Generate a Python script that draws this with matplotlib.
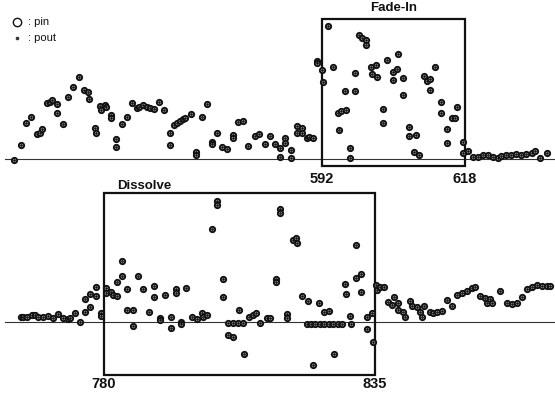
import matplotlib
matplotlib.use("Agg")
import matplotlib.pyplot as plt
from matplotlib.patches import Rectangle

plt.rcParams['font.family'] = ['Liberation Sans', 'DejaVu Sans']

# ---- Top panel: Fade-In (frame numbers, difference values) ----
top_frames = [536.0, 537.3, 538.2, 539.1, 540.2, 540.7, 541.1, 542.0, 542.5, 542.9, 543.8, 543.8,
              544.9, 545.8, 546.7, 547.8, 548.7, 549.5, 549.6, 550.7, 550.9, 551.6, 551.8, 552.5,
              552.7, 553.6, 553.6, 554.5, 554.5, 555.6, 556.5, 557.5, 558.4, 558.7, 559.5, 560.2,
              560.7, 561.5, 562.4, 563.3, 564.4, 564.4, 565.1, 565.6, 566.2, 566.7, 567.1, 568.2,
              569.1, 569.1, 570.2, 571.1, 572.0, 572.0, 572.9, 573.8, 574.7, 575.8, 575.8, 576.7,
              577.6, 578.5, 579.8, 580.5, 581.6, 582.5, 583.5, 584.4, 584.4, 585.3, 585.3, 586.4,
              586.4, 587.5, 587.5, 588.4, 588.4, 589.3, 589.6, 590.4, 591.1, 591.1, 592.0, 592.2,
              593.1, 594.0, 594.9, 595.1, 595.5, 596.2, 596.4, 597.1, 597.1, 598.0, 598.0, 598.7,
              599.3, 600.0, 600.0, 600.9, 601.1, 601.8, 602.0, 603.1, 603.1, 603.8, 604.9, 604.9,
              605.6, 605.8, 606.7, 606.7, 607.8, 607.8, 608.7, 609.1, 609.6, 610.5, 611.1, 611.6,
              611.6, 612.5, 613.6, 613.6, 614.7, 614.7, 615.6, 616.2, 616.5, 617.6, 617.6, 618.5,
              619.5, 620.4, 621.3, 622.2, 623.1, 624.0, 624.5, 625.5, 626.4, 627.3, 628.2, 629.1,
              630.2, 630.7, 631.6, 632.9]
top_values = [-1, 14, 36, 42, 25, 26, 30, 56, 57, 59, 55, 46,
              35, 62, 72, 82, 69, 67, 60, 31, 26, 53, 49, 54,
              52, 44, 41, 20, 12, 35, 42, 56, 51, 52, 54, 52,
              51, 50, 57, 49, 26, 14, 34, 36, 38, 40, 41, 45,
              7, 4, 42, 55, 17, 15, 26, 12, 10, 24, 21, 37,
              38, 13, 23, 25, 15, 23, 15, 11, 2, 21, 16, 9,
              1, 33, 26, 31, 26, 21, 22, 21, 98, 96, 89, 77,
              133, 92, 46, 29, 48, 68, 49, 11, 1, 86, 68, 124,
              121, 119, 114, 92, 85, 94, 82, 50, 36, 99, 87, 79,
              90, 105, 81, 64, 32, 23, 7, 24, 4, 83, 78, 80,
              69, 92, 57, 46, 30, 16, 41, 41, 52, 17, 6, 8,
              2, 2, 4, 4, 2, 1, 3, 4, 4, 5, 4, 5,
              6, 8, 1, 6]
fade_start, fade_end = 592, 618

# ---- Bottom panel: Dissolve ----
bot_frames = [763.2, 763.6, 764.4, 765.4, 766.0, 766.6, 767.6, 768.6, 769.6, 770.7, 771.7, 772.7,
              773.1, 774.1, 775.1, 776.1, 776.1, 777.2, 777.2, 778.4, 778.4, 779.4, 779.4, 780.4,
              780.4, 781.4, 781.8, 782.6, 782.6, 783.7, 783.7, 784.7, 784.7, 785.9, 785.9, 786.9,
              787.9, 789.1, 790.1, 790.1, 791.4, 791.4, 792.4, 793.6, 793.6, 794.6, 794.6, 795.6,
              795.6, 796.6, 797.9, 798.9, 799.9, 800.1, 800.9, 801.9, 802.9, 802.9, 804.2, 804.2,
              805.2, 805.2, 806.2, 806.2, 807.2, 807.4, 808.2, 808.4, 809.4, 810.2, 810.9, 811.7,
              813.1, 813.7, 814.9, 814.9, 815.7, 815.7, 817.1, 817.1, 818.3, 819.0, 819.2, 820.2,
              821.2, 821.4, 822.0, 822.4, 822.8, 823.6, 823.8, 824.7, 824.7, 825.7, 825.7, 826.5,
              826.7, 827.5, 828.3, 828.9, 829.1, 829.9, 830.1, 831.1, 831.1, 832.2, 832.2, 833.4,
              833.4, 834.4, 834.6, 835.2, 835.4, 836.0, 836.8, 837.6, 838.5, 838.9, 839.7, 839.7,
              840.7, 841.1, 842.1, 842.5, 843.5, 844.1, 844.5, 844.9, 846.2, 846.8, 847.6, 848.6,
              849.6, 850.6, 851.6, 852.7, 853.7, 854.7, 855.3, 856.3, 857.3, 857.7, 858.3, 858.7,
              860.4, 861.8, 862.8, 863.8, 864.8, 865.9, 866.9, 867.9, 868.9, 869.9, 870.5]
bot_values = [5, 5, 5, 7, 7, 5, 5, 6, 4, 8, 4, 3,
              4, 9, 0, 10, 23, 15, 28, 35, 26, 9, 6, 34,
              29, 30, 27, 26, 40, 46, 61, 33, 12, 12, -4, 46,
              33, 10, 36, 25, 4, 2, 27, 5, -6, 33, 29, 0,
              -2, 34, 5, 3, 9, 5, 7, 93, 121, 117, 43, 25,
              -1, -13, -1, -15, -1, 12, -1, -32, 5, 7, 9, -1,
              4, 4, 43, 40, 113, 109, 8, 4, 82, 84, 79, 26,
              -2, 21, -2, -43, -2, 19, -2, 10, -2, 11, -2, -2,
              -32, -2, -2, 38, 28, 6, -2, 77, 44, 48, 30, 5,
              -7, 9, -20, 37, 32, 35, 35, 20, 17, 25, 19, 12,
              10, 5, 21, 16, 15, 10, 5, 16, 10, 9, 10, 11,
              22, 16, 27, 29, 31, 34, 35, 26, 24, 19, 23, 19,
              31, 19, 18, 19, 25, 33, 35, 37, 36, 36, 36]
dis_start, dis_end = 780, 835

W, H = 555, 394
fig = plt.figure(figsize=(W / 100, H / 100), dpi=100)
fig.patch.set_facecolor('white')

ax1 = fig.add_axes([0, 1 - 180 / H, 1, 180 / H])
ax2 = fig.add_axes([0, 0, 1, 214 / H])
ax1.set_xlim(533.45, 634.36)
ax1.set_ylim(-21, 159)
ax2.set_xlim(758.89, 871.54)
ax2.set_ylim(-72, 142)
for ax in (ax1, ax2):
    ax.axis('off')


def draw_points(ax, xs, ys):
    ax.plot(xs, ys, linestyle='none', marker='o', ms=3.8, mfc='white', mec='#111111',
            mew=1.4, zorder=3)
    ax.plot(xs, ys, linestyle='none', marker='o', ms=2.0, mfc='#111111', mec='#111111',
            mew=0, zorder=4)


# baselines
ax1.plot([534.4, 634.36], [0, 0], color='#333333', lw=0.8, zorder=1)
ax2.plot([759.9, 871.54], [0, 0], color='#333333', lw=0.8, zorder=1)

# boxes
ax1.add_patch(Rectangle((fade_start, -7), fade_end - fade_start, 147, fill=False,
                        ec='#111111', lw=1.6, zorder=2))
ax2.add_patch(Rectangle((dis_start, -53), dis_end - dis_start, 182, fill=False,
                        ec='#111111', lw=1.6, zorder=2))

draw_points(ax1, top_frames, top_values)
draw_points(ax2, bot_frames, bot_values)

# labels
lab = dict(color='#111111', fontweight='bold')
ax1.text(fade_start, -20, str(fade_start), ha='center', va='center', fontsize=10.5, **lab)
ax1.text(fade_end, -20, str(fade_end), ha='center', va='center', fontsize=10.5, **lab)
ax1.text((fade_start + fade_end) / 2, 151, 'Fade-In', ha='center', va='center', fontsize=9.5,
         **lab)
ax2.text(dis_start, -62, str(dis_start), ha='center', va='center', fontsize=10.5, **lab)
ax2.text(dis_end, -62, str(dis_end), ha='center', va='center', fontsize=10.5, **lab)
ax2.text(782.6, 136, 'Dissolve', ha='left', va='center', fontsize=9.5, **lab)

# legend
ax1.plot([17 / W], [1 - 22 / H], transform=fig.transFigure, marker='o', ms=6, mfc='white',
         mec='#111111', mew=1.0, clip_on=False)
ax1.plot([17 / W], [1 - 38 / H], transform=fig.transFigure, marker='o', ms=1.6, mfc='#333333',
         mec='#333333', clip_on=False)
fig.text(28 / W, 1 - 22 / H, ': pin', ha='left', va='center', fontsize=8, color='#111111')
fig.text(28 / W, 1 - 38 / H, ': pout', ha='left', va='center', fontsize=8, color='#111111')

fig.savefig('out.png', dpi=100)
